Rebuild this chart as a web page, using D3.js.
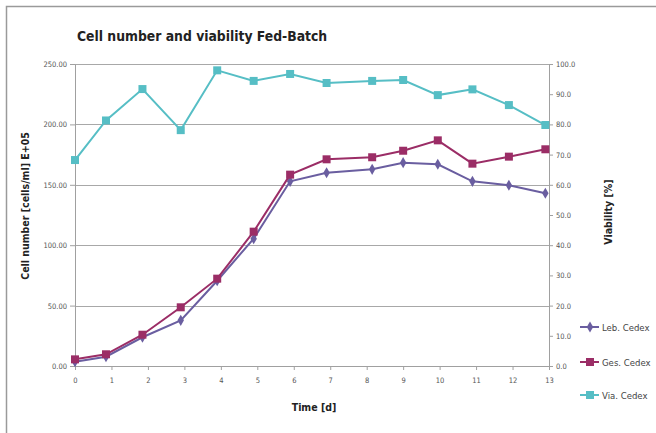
<!DOCTYPE html>
<html>
<head>
<meta charset="utf-8">
<script src="https://cdnjs.cloudflare.com/ajax/libs/d3/7.8.5/d3.min.js"></script>
<style>
  body { margin: 0; background: #fff; }
  svg text { font-family: "DejaVu Sans Condensed", "DejaVu Sans", sans-serif; }
</style>
</head>
<body>
<div id="chart"></div>
<script>
// time points in days
const days = [0, 0.85, 1.85, 2.9, 3.9, 4.9, 5.9, 6.9, 8.15, 9, 9.95, 10.9, 11.9, 12.9];
// cell counts [cells/ml] E+05
const lebCedex = [3.6, 7.7, 23.8, 37.8, 70.6, 105.4, 152.9, 160.0, 162.8, 168.3, 167.0, 152.9, 149.6, 143.0];
const gesCedex = [5.5, 9.7, 25.9, 48.6, 72.3, 111.2, 158.4, 171.1, 172.8, 178.2, 186.8, 167.5, 173.3, 179.4];
// viability [%]
const viaCedex = [68.2, 81.3, 91.7, 78.1, 97.9, 94.4, 96.7, 93.7, 94.4, 94.7, 89.7, 91.6, 86.4, 79.8];

const dayTicks = d3.range(0, 14);
const leftTicks = [0, 50, 100, 150, 200, 250];
const rightTicks = d3.range(0, 101, 10);

const W = 656, H = 433;
const m = { left: 75, right: 549, top: 64, bottom: 366 };

const svg = d3.select("#chart").append("svg").attr("width", W).attr("height", H);

// outer frame
svg.append("rect").attr("x", 6.5).attr("y", 6.5).attr("width", 700).attr("height", 500)
  .attr("fill", "none").attr("stroke", "#9a9a9a").attr("stroke-width", 1.5);

const x = d3.scaleLinear().domain([0, 13]).range([m.left, m.right]);
const yL = d3.scaleLinear().domain([0, 250]).range([m.bottom, m.top]);
const yR = d3.scaleLinear().domain([0, 100]).range([m.bottom, m.top]);

// gridlines
svg.append("g").selectAll("line").data(leftTicks.slice(1)).join("line")
  .attr("x1", m.left).attr("x2", m.right)
  .attr("y1", d => Math.round(yL(d)) + 0.5).attr("y2", d => Math.round(yL(d)) + 0.5)
  .attr("stroke", "#a8a8a8").attr("stroke-width", 1);

function styleAxis(g) {
  g.selectAll("path, line").attr("stroke", "#a0a0a0");
  g.selectAll("text").attr("fill", "#555").style("font-size", "7.5px");
}

svg.append("g").attr("transform", `translate(${m.left},0)`)
  .call(d3.axisLeft(yL).tickValues(leftTicks).tickFormat(d3.format(".2f")).tickSize(5).tickSizeOuter(0).tickPadding(3))
  .call(styleAxis);

svg.append("g").attr("transform", `translate(${m.right},0)`)
  .call(d3.axisRight(yR).tickValues(rightTicks).tickFormat(d3.format(".1f")).tickSize(4).tickSizeOuter(0).tickPadding(3))
  .call(styleAxis);

svg.append("g").attr("transform", `translate(0,${m.bottom})`)
  .call(d3.axisBottom(x).tickValues(dayTicks).tickFormat(d3.format("d")).tickSize(4).tickSizeOuter(0).tickPadding(8))
  .call(styleAxis);

const series = [
  { name: "Leb. Cedex", values: lebCedex, y: yL, color: "#6a5ea0", shape: d3.symbolDiamond, size: 36 },
  { name: "Ges. Cedex", values: gesCedex, y: yL, color: "#9b2d66", shape: d3.symbolSquare, size: 64 },
  { name: "Via. Cedex", values: viaCedex, y: yR, color: "#56bec5", shape: d3.symbolSquare, size: 64 }
];

const drawOrder = [series[2], series[0], series[1]];
drawOrder.forEach(s => {
  const pts = days.map((d, i) => [d, s.values[i]]);
  svg.append("path").datum(pts)
    .attr("fill", "none").attr("stroke", s.color).attr("stroke-width", 2)
    .attr("d", d3.line().x(p => x(p[0])).y(p => s.y(p[1])));
  svg.append("g").selectAll("path").data(pts).join("path")
    .attr("transform", p => `translate(${x(p[0])},${s.y(p[1])})`)
    .attr("d", d3.symbol().type(s.shape).size(s.size))
    .attr("fill", s.color);
});

// legend
const legendY = [327, 362, 395];
series.forEach((s, i) => {
  const g = svg.append("g").attr("transform", `translate(580,${legendY[i]})`);
  g.append("line").attr("x1", 0).attr("x2", 19).attr("stroke", s.color).attr("stroke-width", 2);
  g.append("path").attr("transform", "translate(10,0)")
    .attr("d", d3.symbol().type(s.shape).size(s.size)).attr("fill", s.color);
  g.append("text").attr("x", 22).attr("y", 3.5).text(s.name)
    .attr("fill", "#444").style("font-size", "9.5px");
});

// titles
svg.append("text").attr("x", 77).attr("y", 41).text("Cell number and viability Fed-Batch")
  .style("font-size", "13.8px").style("font-weight", "bold").attr("fill", "#222");

svg.append("text").attr("transform", "translate(29,206) rotate(-90)").attr("text-anchor", "middle")
  .text("Cell number [cells/ml] E+05").style("font-size", "10.5px").style("font-weight", "bold").attr("fill", "#222");

svg.append("text").attr("transform", "translate(612,212) rotate(-90)").attr("text-anchor", "middle")
  .text("Viability [%]").style("font-size", "10.5px").style("font-weight", "bold").attr("fill", "#222");

svg.append("text").attr("x", 314).attr("y", 411).attr("text-anchor", "middle")
  .text("Time [d]").style("font-size", "10.5px").style("font-weight", "bold").attr("fill", "#222");
</script>
</body>
</html>
